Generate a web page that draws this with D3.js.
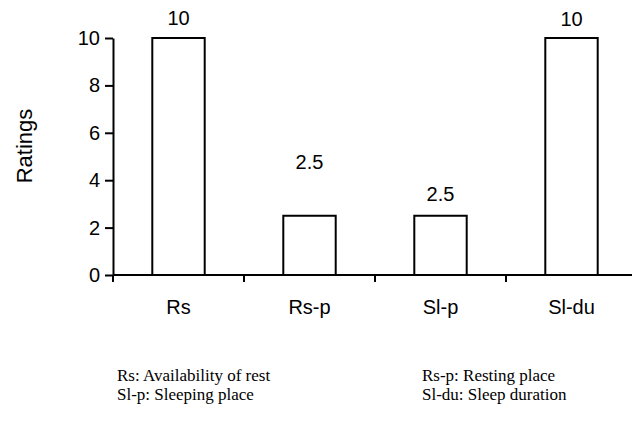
<!DOCTYPE html>
<html>
<head>
<meta charset="utf-8">
<script src="https://cdn.jsdelivr.net/npm/d3@7"></script>
<style>
  body { margin: 0; background: #fff; }
  svg text { font-family: Arial, "Liberation Sans", sans-serif; }
  svg text.note { font-family: "Liberation Serif", "Times New Roman", serif; }
</style>
</head>
<body>
<div id="chart"></div>
<script>
const categories = ['Rs', 'Rs-p', 'Sl-p', 'Sl-du']
const ratings = [10, 2.5, 2.5, 10]
const yTicks = [0, 2, 4, 6, 8, 10]
const notesLeft = ['Rs: Availability of rest', 'Sl-p: Sleeping place']
const notesRight = ['Rs-p: Resting place', 'Sl-du: Sleep duration']

const svg_width = 632
const svg_height = 430
const plot_left = 113
const plot_right = 637
const plot_top = 38
const plot_bottom = 275
const font_size = 20
// the value labels do not all sit at the same distance above the bars
const label_gap = [13, 47, 15, 12]

const svg = d3.select('#chart')
            .append('svg')
            .attr('width', svg_width)
            .attr('height', svg_height)

const xScale = d3.scaleBand()
        .domain(categories)
        .range([plot_left, plot_right])
        .paddingInner(0.6)
        .paddingOuter(0.3)

const yScale = d3.scaleLinear()
        .domain([0, 10])
        .range([plot_bottom, plot_top])

// bars
svg.selectAll('rect.bar')
    .data(categories)
    .join('rect')
      .attr('class', 'bar')
      .attr('x', d => xScale(d))
      .attr('y', (d, i) => yScale(ratings[i]))
      .attr('width', xScale.bandwidth())
      .attr('height', (d, i) => yScale(0) - yScale(ratings[i]))
      .attr('fill', 'white')
      .attr('stroke', 'black')
      .attr('stroke-width', 2)

// value labels
svg.selectAll('text.value')
    .data(categories)
    .join('text')
      .attr('class', 'value')
      .attr('x', d => xScale(d) + xScale.bandwidth() / 2)
      .attr('y', (d, i) => yScale(ratings[i]) - label_gap[i])
      .attr('text-anchor', 'middle')
      .attr('font-size', font_size)
      .text((d, i) => ratings[i])

// y axis
const yAxis = svg.append('g')
    .attr('transform', `translate(${plot_left},0)`)
    .call(d3.axisLeft(yScale).tickValues(yTicks).tickSize(8).tickPadding(5).tickSizeOuter(0))
yAxis.select('.domain').attr('stroke-width', 2)
yAxis.selectAll('.tick line').attr('stroke-width', 2)
yAxis.selectAll('.tick text').attr('font-size', font_size).attr('font-family', null)

// x axis: ticks sit on the band edges
const edges = categories.map(d => xScale(d) - xScale.step() * xScale.paddingOuter())
const xAxis = svg.append('g')
    .attr('transform', `translate(0,${plot_bottom})`)
xAxis.append('line')
    .attr('x1', plot_left).attr('x2', svg_width)
    .attr('stroke', 'black').attr('stroke-width', 2)
xAxis.selectAll('line.tick')
    .data(edges)
    .join('line')
      .attr('class', 'tick')
      .attr('x1', d => d).attr('x2', d => d)
      .attr('y1', 0).attr('y2', 7)
      .attr('stroke', 'black').attr('stroke-width', 2)
xAxis.selectAll('text.cat')
    .data(categories)
    .join('text')
      .attr('class', 'cat')
      .attr('x', d => xScale(d) + xScale.bandwidth() / 2)
      .attr('y', 39)
      .attr('text-anchor', 'middle')
      .attr('font-size', font_size)
      .text(d => d)

// axis title
svg.append('text')
    .attr('transform', `translate(32,146) rotate(-90)`)
    .attr('text-anchor', 'middle')
    .attr('font-size', 22)
    .text('Ratings')

// notes below the chart
svg.selectAll('text.note-left')
    .data(notesLeft)
    .join('text')
      .attr('class', 'note note-left')
      .attr('x', 117)
      .attr('y', (d, i) => 381 + i * 19)
      .attr('font-size', 17)
      .text(d => d)
svg.selectAll('text.note-right')
    .data(notesRight)
    .join('text')
      .attr('class', 'note note-right')
      .attr('x', 422)
      .attr('y', (d, i) => 381 + i * 19)
      .attr('font-size', 17)
      .text(d => d)
</script>
</body>
</html>
